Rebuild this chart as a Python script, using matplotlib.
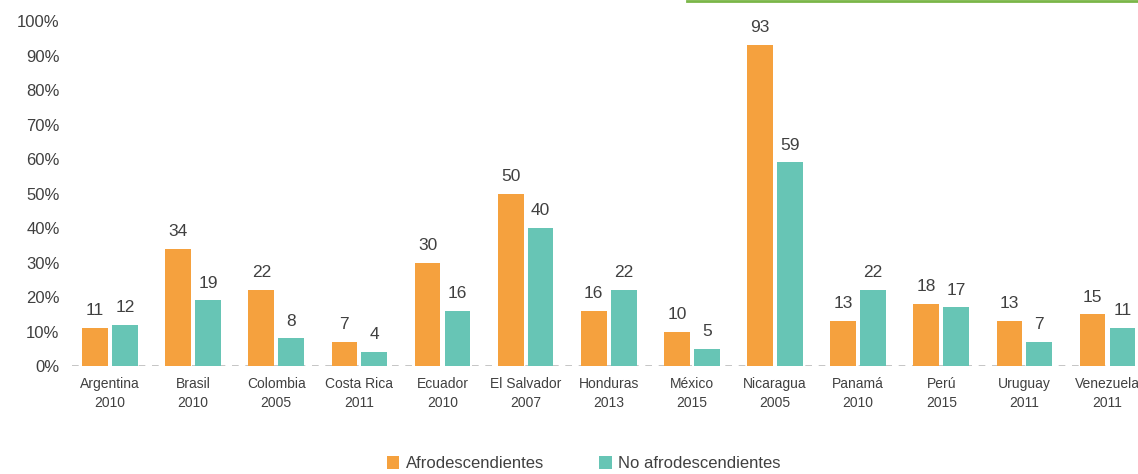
import matplotlib.pyplot as plt
import numpy as np
from matplotlib.lines import Line2D

plt.rcParams['font.family'] = ['Liberation Sans', 'DejaVu Sans']

paises = ['Argentina\n2010', 'Brasil\n2010', 'Colombia\n2005', 'Costa Rica\n2011', 'Ecuador\n2010',
          'El Salvador\n2007', 'Honduras\n2013', 'México\n2015', 'Nicaragua\n2005', 'Panamá\n2010',
          'Perú\n2015', 'Uruguay\n2011', 'Venezuela\n2011']
afro = [11, 34, 22, 7, 30, 50, 16, 10, 93, 13, 18, 13, 15]
no_afro = [12, 19, 8, 4, 16, 40, 22, 5, 59, 22, 17, 7, 11]
yticks = [0, 10, 20, 30, 40, 50, 60, 70, 80, 90, 100]

c_afro = '#F5A13E'
c_no = '#67C5B5'
txt = '#404040'

fig = plt.figure(figsize=(11.38, 4.74), dpi=100)
ax = fig.add_axes([0.0633, 0.2278, 0.934, 0.7279])

x = np.arange(len(paises))
w = 0.31
b1 = ax.bar(x - 0.18, afro, w, color=c_afro, label='Afrodescendientes')
b2 = ax.bar(x + 0.18, no_afro, w, color=c_no, label='No afrodescendientes')

for bars, vals in [(b1, afro), (b2, no_afro)]:
    for r, v in zip(bars, vals):
        ax.annotate(str(v), (r.get_x() + r.get_width() / 2, r.get_height()),
                    xytext=(0, 7), textcoords='offset points', ha='center', va='bottom',
                    fontsize=12.5, color=txt)

ax.set_ylim(0, 100)
ax.set_xlim(-0.457, 12.33)
ax.set_yticks(yticks)
ax.set_yticklabels([f'{t}%' for t in yticks], fontsize=12, color=txt)
ax.set_xticks(x)
ax.set_xticklabels(paises, fontsize=10, color=txt, linespacing=1.45)
ax.tick_params(axis='both', length=0)
ax.tick_params(axis='y', pad=9)
ax.tick_params(axis='x', pad=8)
for s in ax.spines.values():
    s.set_visible(False)
ax.axhline(0, color='#BBBBBB', linestyle=(0, (4, 4)), linewidth=1.2, zorder=0)

fig.legend(loc='lower center', bbox_to_anchor=(0.513, -0.026), ncol=2, frameon=False,
           fontsize=12, handlelength=0.75, handleheight=0.75, columnspacing=3.3, handletextpad=0.4,
           labelcolor=txt)

# linea verde recortada arriba a la derecha
fig.add_artist(Line2D([687 / 1138, 1], [0.998, 0.998], color='#7AB648', linewidth=2,
                      transform=fig.transFigure))

fig.savefig('out.png', dpi=100)
